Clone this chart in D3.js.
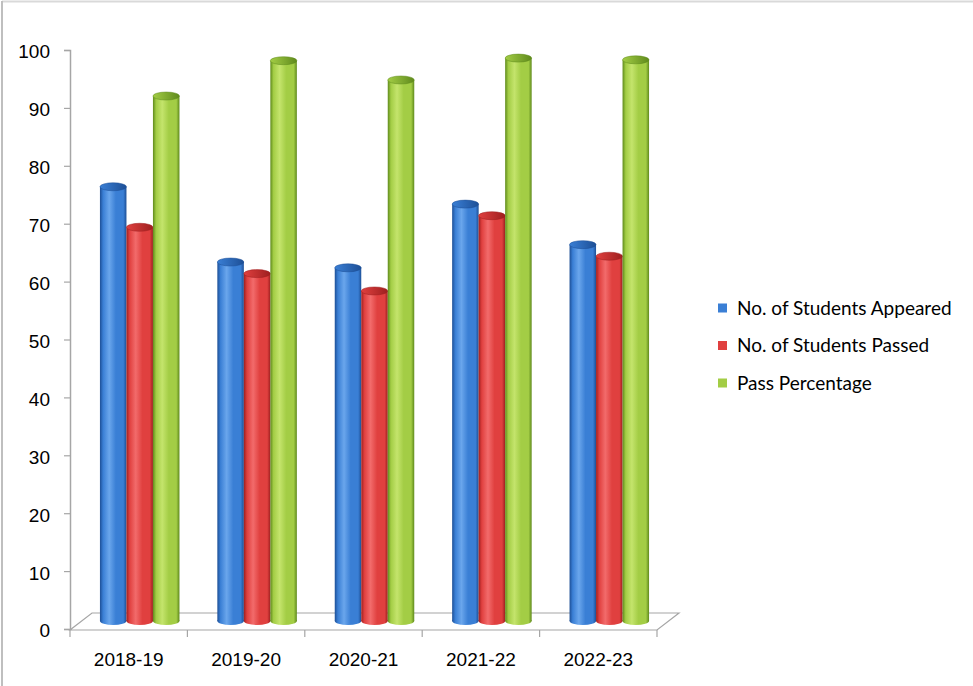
<!DOCTYPE html>
<html>
<head>
<meta charset="utf-8">
<title>Results</title>
<script src="https://cdn.jsdelivr.net/npm/d3@7"></script>
<style>
  html, body { margin: 0; padding: 0; background: #fff; }
  svg { display: block; font-family: Lato, "Open Sans", sans-serif; }
  .tick text { font-size: 19px; fill: #000; }
  .legend text { font-size: 19px; fill: #000; }
</style>
</head>
<body>
<svg id="chart" width="973" height="686"></svg>
<script>
var years = ['2018-19', '2019-20', '2020-21', '2021-22', '2022-23'];
var seriesNames = ['No. of Students Appeared', 'No. of Students Passed', 'Pass Percentage'];
var appeared = [75, 62, 61, 72, 65];
var passed = [68, 60, 57, 70, 63];
var passPct = [90.67, 96.77, 93.44, 97.22, 96.92];
var yTicks = [0, 10, 20, 30, 40, 50, 60, 70, 80, 90, 100];

// colours: [light, mid, dark] per series
var colours = [
  ['#6aa6ec', '#3a7fd5', '#1d4f96'],
  ['#f26b6b', '#e0403f', '#9e1f1f'],
  ['#c4e46c', '#a3cd45', '#5f8a1c']
];

var svg = d3.select('#chart');
var plotL = 70, plotR = 657, plotT = 50, plotB = 630;
var depthX = 22, depthY = 17;   // 3d floor offset

var x0 = d3.scaleBand().domain(years).range([plotL, plotR]);
var x1 = d3.scaleBand().domain(seriesNames).range([0, x0.bandwidth()]).paddingInner(0).paddingOuter(0.715);
var y = d3.scaleLinear().domain([0, 100]).range([plotB - 1, plotT]);

// outer frame (only top and left edges show)
svg.append('line').attr('x1', 2).attr('x2', 973).attr('y1', 1.5).attr('y2', 1.5).attr('stroke', '#d9d9d9').attr('stroke-width', 2);
svg.append('line').attr('x1', 2).attr('x2', 2).attr('y1', 1).attr('y2', 686).attr('stroke', '#bfbfbf').attr('stroke-width', 2);

// gradients for the cylinders
var defs = svg.append('defs');
colours.forEach(function(c, i) {
  var g = defs.append('linearGradient').attr('id', 'body' + i).attr('x1', 0).attr('x2', 1).attr('y1', 0).attr('y2', 0);
  g.append('stop').attr('offset', '0%').attr('stop-color', c[2]);
  g.append('stop').attr('offset', '12%').attr('stop-color', c[1]);
  g.append('stop').attr('offset', '35%').attr('stop-color', c[0]);
  g.append('stop').attr('offset', '60%').attr('stop-color', c[1]);
  g.append('stop').attr('offset', '88%').attr('stop-color', c[1]);
  g.append('stop').attr('offset', '100%').attr('stop-color', c[2]);
  var t = defs.append('linearGradient').attr('id', 'top' + i).attr('x1', 0).attr('x2', 1).attr('y1', 0).attr('y2', 0);
  t.append('stop').attr('offset', '0%').attr('stop-color', c[1]);
  t.append('stop').attr('offset', '100%').attr('stop-color', c[2]);
});

// floor
var floor = [[plotL, plotB], [plotR, plotB], [plotR + depthX, plotB - depthY], [plotL + depthX, plotB - depthY]];
svg.append('path')
  .attr('d', d3.line()(floor) + 'Z')
  .attr('fill', '#fff')
  .attr('stroke', '#a6a6a6')
  .attr('stroke-width', 1.2);

// y axis
var yAxis = svg.append('g')
  .attr('transform', 'translate(' + plotL + ',0)')
  .call(d3.axisLeft(y).tickValues(yTicks).tickSize(6).tickPadding(14));
yAxis.select('.domain').attr('stroke', '#a6a6a6').attr('stroke-width', 1.5);
yAxis.selectAll('.tick line').attr('stroke', '#a6a6a6').attr('stroke-width', 1.2);
yAxis.selectAll('.tick text').attr('dy', '0.42em');

// x axis
var xAxis = svg.append('g')
  .attr('transform', 'translate(0,' + plotB + ')')
  .call(d3.axisBottom(x0).tickSize(0).tickPadding(23));
xAxis.select('.domain').remove();
svg.append('g').selectAll('line')
  .data(years.map(function(d) { return x0(d); }).concat([plotR]))
  .enter().append('line')
  .attr('x1', function(d) { return d; }).attr('x2', function(d) { return d; })
  .attr('y1', plotB).attr('y2', plotB + 7)
  .attr('stroke', '#a6a6a6').attr('stroke-width', 1.2);

// bars as cylinders
var seriesValues = [appeared, passed, passPct];
var rows = [];
years.forEach(function(yr, i) {
  seriesValues.forEach(function(vals, s) {
    rows.push({ year: yr, s: s, value: vals[i] });
  });
});

var bw = x1.bandwidth();
var ry = 4;
var shiftX = depthX / 2, shiftY = depthY / 2;

var bars = svg.append('g').selectAll('g')
  .data(rows)
  .enter().append('g')
  .attr('transform', function(d) {
    return 'translate(' + (x0(d.year) + x1(seriesNames[d.s]) + shiftX) + ',' + (-shiftY + 0.5) + ')';
  });

bars.append('ellipse')
  .attr('cx', bw / 2).attr('cy', y(0))
  .attr('rx', bw / 2).attr('ry', ry)
  .attr('fill', function(d) { return 'url(#body' + d.s + ')'; });
bars.append('rect')
  .attr('x', 0).attr('width', bw)
  .attr('y', function(d) { return y(d.value); })
  .attr('height', function(d) { return y(0) - y(d.value); })
  .attr('fill', function(d) { return 'url(#body' + d.s + ')'; });
bars.append('ellipse')
  .attr('cx', bw / 2).attr('cy', function(d) { return y(d.value); })
  .attr('rx', bw / 2).attr('ry', ry)
  .attr('fill', function(d) { return 'url(#top' + d.s + ')'; })
  .attr('stroke', function(d) { return colours[d.s][2]; })
  .attr('stroke-width', 0.5);

// legend
var legend = svg.append('g').attr('class', 'legend')
  .selectAll('g').data(seriesNames).enter().append('g')
  .attr('transform', function(d, i) { return 'translate(718,' + (308 + i * 37.5) + ')'; });
legend.append('rect')
  .attr('x', 0).attr('y', -4.5).attr('width', 9).attr('height', 9)
  .attr('fill', function(d, i) { return colours[i][1]; });
legend.append('text')
  .attr('x', 19).attr('dy', '0.35em')
  .text(function(d) { return d; });
</script>
</body>
</html>
